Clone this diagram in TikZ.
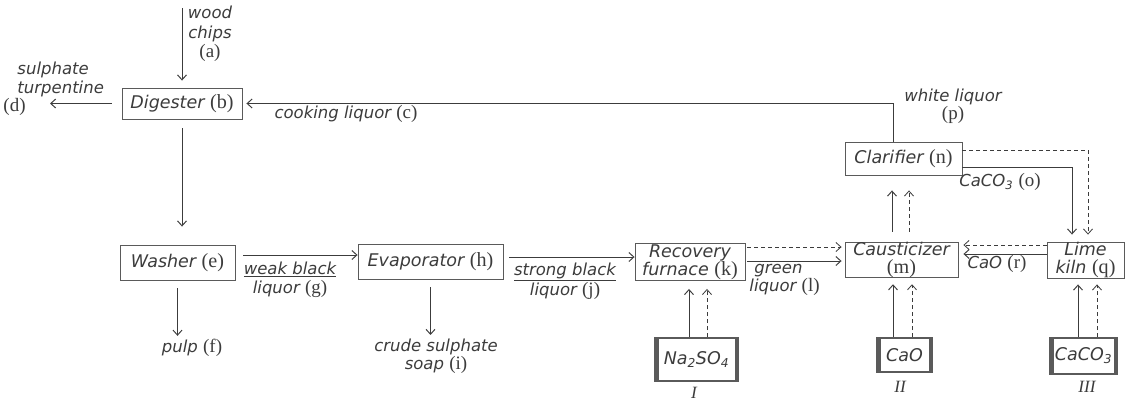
\documentclass[tikz,border=0pt]{standalone}
\usepackage{fontspec}
\setmainfont{DejaVu Sans}
\newfontfamily\letfont{Liberation Serif}[Scale=1.15]
\usetikzlibrary{arrows.meta,positioning}
\definecolor{ink}{HTML}{3C3C3C}
\definecolor{boxline}{HTML}{5A5A5A}
\newcommand\tagl[1]{{\upshape\letfont(#1)}}

\begin{document}
\begin{tikzpicture}[x=1pt, y=-1pt, line width=0.95pt, color=ink,
  every node/.style={text=ink, font=\fontsize{17.5}{18}\selectfont\itshape},
  box/.style={draw=boxline, line width=0.9pt, inner sep=0pt, align=center},
  feed/.style={box, line width=1.8pt, path picture={
      \draw[line width=7pt] (path picture bounding box.north west) -- (path picture bounding box.south west)
        (path picture bounding box.north east) -- (path picture bounding box.south east);}},
  lbl/.style={align=center, inner sep=1pt, font=\fontsize{16.5}{18.5}\selectfont\itshape},
  num/.style={font=\fontsize{15}{16}\selectfont\letfont\itshape},
  arr/.style={-{Straight Barb[length=5pt,width=9pt]}},
  dsh/.style={arr, line width=0.8pt, dash pattern=on 4pt off 3pt}]
  \fill[white] (0,0) rectangle (1135,402);
  \useasboundingbox (0,0) rectangle (1135,402);

  % process boxes
  \node[box, minimum width=120, minimum height=31] (dig) at (182,103.5) {Digester \tagl{b}};
  \node[box, minimum width=115, minimum height=35] (wash) at (177.5,262.5) {Washer \tagl{e}};
  \node[box, minimum width=145, minimum height=35] (evap) at (430.5,261.5) {Evaporator \tagl{h}};
  \node[box, minimum width=110, minimum height=37] (rec) at (690,262) {Recovery\\furnace \tagl{k}};
  \node[box, minimum width=113, minimum height=34] (caus) at (901.5,260) {Causticizer\\\tagl{m}};
  \node[box, minimum width=117, minimum height=33] (clar) at (903.5,158.5) {Clarifier \tagl{n}};
  \node[box, minimum width=77, minimum height=36] (kiln) at (1085.5,260) {Lime\\kiln \tagl{q}};

  \node[feed, minimum width=83, minimum height=43] (na) at (696.5,359.5) {Na\textsubscript{2}SO\textsubscript{4}};
  \node[feed, minimum width=55, minimum height=34] (cao) at (904.5,355) {CaO};
  \node[feed, minimum width=67, minimum height=36] (caco) at (1083.5,356) {CaCO\textsubscript{3}};
  \node[num] (n1) at (694,393) {I};
  \node[num] (n2) at (900,387) {II};
  \node[num] (n3) at (1087,387) {III};

  % stream labels
  \node[lbl, font=\fontsize{16.5}{19.5}\selectfont\itshape] (chips) at (210,34) {wood\\chips\\\tagl{a}};
  \node[lbl, align=left, anchor=west] (turp) at (2,89) {\hspace*{14pt}sulphate\\\hspace*{14pt}turpentine\\\tagl{d}};
  \node[lbl] (cook) at (346,114) {cooking liquor \tagl{c}};
  \node[lbl] (white) at (953,106) {white liquor\\\tagl{p}};
  \node[lbl] (caco3o) at (1000,182) {CaCO\textsubscript{3} \tagl{o}};
  \node[lbl] (weak) at (290,280) {\underline{weak black}\\liquor \tagl{g}};
  \node[lbl] (strong) at (565,281) {\underline{strong black}\\liquor \tagl{j}};
  \node[lbl, align=left, anchor=west] (green) at (748,280) {\hspace*{5pt}green\\liquor \tagl{l}};
  \node[lbl] (caor) at (997,264) {CaO \tagl{r}};
  \node[lbl] (pulp) at (192,348) {pulp \tagl{f}};
  \node[lbl] (soap) at (436,356) {crude sulphate\\soap \tagl{i}};

  \coordinate (chipsin) at (182,8);
  \coordinate (turpout) at (50,103.5);

  \draw[arr, shorten >=7pt] (chipsin) -- (dig.north);
  \draw[arr, shorten <=10pt] (dig.west) -- (turpout);
  \draw[arr, shorten <=9pt, shorten >=18pt] (dig.south) -- (dig.south |- wash.north);
  \draw[arr, shorten >=4pt] ([xshift=-10pt]clar.north) |- (dig.east);
  \draw[arr, shorten <=8pt, shorten >=2pt] (wash.south) -- (wash.south |- pulp.north);
  \draw[arr, shorten <=8pt, shorten >=2pt] (evap.south) -- (evap.south |- soap.north);

  \draw[arr, shorten <=8pt] ([yshift=7.5pt]wash.east) -- ([yshift=7.5pt]wash.east -| evap.west);
  \draw[arr, shorten <=6pt] ([yshift=4.5pt]evap.east) -- ([yshift=4.5pt]evap.east -| rec.west);
  \draw[dsh, shorten <=2pt, shorten >=3pt] ([yshift=15pt]rec.east) -- ([yshift=15pt]rec.east -| caus.west);
  \draw[arr, shorten <=2pt, shorten >=3pt] ([yshift=1pt]rec.east) -- ([yshift=1pt]rec.east -| caus.west);
  \draw[dsh, shorten >=5pt] ([yshift=15pt]kiln.west) -- ([yshift=15pt]kiln.west -| caus.east);
  \draw[arr, shorten >=5pt] ([yshift=6pt]kiln.west) -- ([yshift=6pt]kiln.west -| caus.east);

  \draw[arr, shorten >=8pt] ([xshift=-7.5pt]na.north) -- ([xshift=-7.5pt]na.north |- rec.south);
  \draw[dsh, shorten >=8pt] ([xshift=10.5pt]na.north) -- ([xshift=10.5pt]na.north |- rec.south);
  \draw[arr, shorten <=10pt, shorten >=15pt] ([xshift=-9.5pt]caus.north) -- ([xshift=-9.5pt]caus.north |- clar.south);
  \draw[dsh, shorten <=10pt, shorten >=15pt] ([xshift=7.5pt]caus.north) -- ([xshift=7.5pt]caus.north |- clar.south);
  \draw[arr, shorten >=6pt] ([xshift=-11.5pt]cao.north) -- ([xshift=-11.5pt]cao.north |- caus.south);
  \draw[dsh, shorten >=6pt] ([xshift=7.5pt]cao.north) -- ([xshift=7.5pt]cao.north |- caus.south);
  \draw[arr, shorten >=6pt] ([xshift=-5.5pt]caco.north) -- ([xshift=-5.5pt]caco.north |- kiln.south);
  \draw[dsh, shorten >=6pt] ([xshift=13.5pt]caco.north) -- ([xshift=13.5pt]caco.north |- kiln.south);

  \draw[arr, shorten >=7pt] ([yshift=-8.5pt]clar.east) -| ([xshift=-13.5pt]kiln.north);
  \draw[dsh, shorten >=7pt] ([yshift=8.5pt]clar.east) -| ([xshift=2.5pt]kiln.north);
\end{tikzpicture}
\end{document}
